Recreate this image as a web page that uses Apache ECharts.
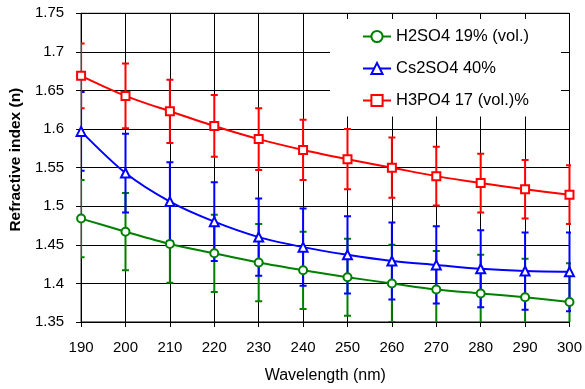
<!DOCTYPE html>
<html>
<head>
<meta charset="utf-8">
<style>
  html, body { margin: 0; padding: 0; background: #fff; }
  #myChart { width: 585px; height: 389px; }
</style>
<script src="https://cdn.jsdelivr.net/npm/echarts@6/dist/echarts.min.js"></script>
</head>
<body>
<div id="myChart"></div>
<script>
// values
const wavelength = [190, 200, 210, 220, 230, 240, 250, 260, 270, 280, 290, 300]
const h2so4 = [1.484, 1.467, 1.451, 1.439, 1.427, 1.417, 1.408, 1.400, 1.392, 1.387, 1.382, 1.376]
const cs2so4 = [1.597, 1.543, 1.506, 1.480, 1.460, 1.447, 1.437, 1.429, 1.424, 1.419, 1.416, 1.415]
const h3po4 = [1.669, 1.643, 1.623, 1.604, 1.587, 1.573, 1.561, 1.550, 1.539, 1.530, 1.522, 1.515]
// error bar half heights
const h2so4Err = [0.05, 0.05, 0.05, 0.05, 0.05, 0.05, 0.05, 0.05, 0.05, 0.05, 0.05, 0.05]
const cs2so4Err = [0.051, 0.051, 0.051, 0.051, 0.05, 0.05, 0.05, 0.05, 0.05, 0.05, 0.05, 0.051]
const h3po4Err = [0.042, 0.042, 0.041, 0.040, 0.040, 0.039, 0.039, 0.039, 0.038, 0.038, 0.038, 0.038]

const names = ['H2SO4 19% (vol.)', 'Cs2SO4 40%', 'H3PO4 17 (vol.)%']
const colors = ['#008000', '#0000ff', '#ff0000']
const symbols = ['emptyCircle', 'emptyTriangle', 'emptyRect']
const symbolSizes = [8, 9, 8]

function pairs(ys) {
  return wavelength.map((x, i) => [x, ys[i]])
}

function errData(ys, errs) {
  return wavelength.map((x, i) => [x, ys[i] - errs[i], ys[i] + errs[i]])
}

function renderErr(color) {
  return function (params, api) {
    const lo = api.coord([api.value(0), api.value(1)])
    const hi = api.coord([api.value(0), api.value(2)])
    const cap = 3.5
    const style = { stroke: color, lineWidth: 2 }
    return {
      type: 'group',
      children: [
        { type: 'line', shape: { x1: lo[0], y1: lo[1], x2: hi[0], y2: hi[1] }, style: style },
        { type: 'line', shape: { x1: lo[0] - cap, y1: lo[1], x2: lo[0] + cap, y2: lo[1] }, style: style },
        { type: 'line', shape: { x1: hi[0] - cap, y1: hi[1], x2: hi[0] + cap, y2: hi[1] }, style: style },
      ],
    }
  }
}

const lines = [h2so4, cs2so4, h3po4]
const errs = [h2so4Err, cs2so4Err, h3po4Err]

let series = []
lines.forEach((ys, k) => {
  series.push({
    type: 'custom',
    name: names[k] + ' err',
    data: errData(ys, errs[k]),
    renderItem: renderErr(colors[k]),
    clip: true,
    z: 1,
    silent: true,
  })
})
lines.forEach((ys, k) => {
  series.push({
    type: 'line',
    name: names[k],
    data: pairs(ys),
    smooth: 0.3,
    symbol: symbols[k],
    symbolSize: symbolSizes[k],
    color: colors[k],
    lineStyle: { width: 2, color: colors[k] },
    itemStyle: { color: colors[k], borderWidth: 1 },
    z: 3,
  })
})

let myChart = echarts.init(document.getElementById('myChart'))
myChart.setOption({
  animation: false,
  grid: {
    left: 80.5,
    right: 15,
    top: 13.3,
    bottom: 66.3,
    show: true,
    borderColor: '#000',
    borderWidth: 1,
  },
  legend: {
    data: names,
    orient: 'vertical',
    left: 330,
    top: 19,
    padding: [9, 32, 7.5, 32],
    itemWidth: 28,
    itemHeight: 14,
    itemGap: 15,
    backgroundColor: '#fff',
    z: 2,
    textStyle: { fontFamily: 'Liberation Sans, Arial', fontSize: 16.5, color: '#000' },
  },
  xAxis: {
    type: 'value',
    min: 190,
    max: 300,
    interval: 10,
    name: 'Wavelength (nm)',
    nameLocation: 'middle',
    nameGap: 46,
    nameTextStyle: { fontFamily: 'Liberation Sans, Arial', fontSize: 16, color: '#000' },
    axisLine: { lineStyle: { color: '#000', width: 1 } },
    axisTick: { length: 5, lineStyle: { color: '#000' } },
    axisLabel: { margin: 18, fontFamily: 'Liberation Sans, Arial', fontSize: 15, color: '#000' },
    splitLine: { show: true, lineStyle: { color: '#000', width: 1 } },
  },
  yAxis: {
    type: 'value',
    min: 1.35,
    max: 1.75,
    interval: 0.05,
    name: 'Refractive index (n)',
    nameLocation: 'middle',
    nameGap: 48,
    nameTextStyle: {
      fontFamily: 'Liberation Sans, Arial',
      fontSize: 15.5,
      fontWeight: 'bold',
      color: '#000',
      padding: [0, 0, 0, 16],
    },
    axisLine: { show: true, lineStyle: { color: '#000', width: 1 } },
    axisTick: { show: true, length: 5, lineStyle: { color: '#000' } },
    axisLabel: {
      margin: 17,
      fontFamily: 'Liberation Sans, Arial',
      fontSize: 15,
      color: '#000',
      formatter: (v) => String(Math.round(v * 100) / 100),
    },
    splitLine: { show: true, lineStyle: { color: '#000', width: 1 } },
  },
  series: series,
})
</script>
</body>
</html>
